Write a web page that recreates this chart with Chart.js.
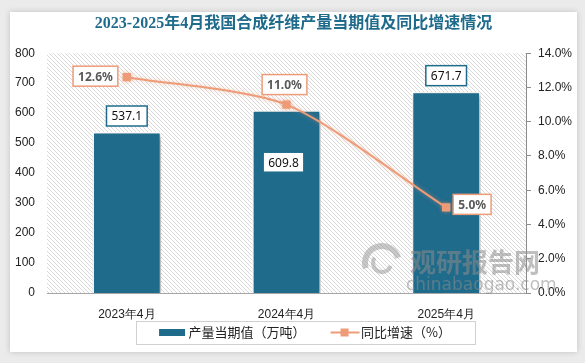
<!DOCTYPE html>
<html>
<head>
<meta charset="utf-8">
<script src="https://cdn.jsdelivr.net/npm/chart.js@4.4.0/dist/chart.umd.min.js"></script>
<style>
  body { margin: 0; background: #ebebeb; }
  #card { position: absolute; left: 10px; top: 12px; width: 567px; height: 340px; background: #fff; box-shadow: 0 0 6px rgba(0,0,0,0.18); }
  #wrap { position: absolute; left: 0; top: 0; width: 585px; height: 363px; }
</style>
</head>
<body>
<div id="card"></div>
<div id="wrap"><canvas id="myChart" width="585" height="363"></canvas></div>
<script>
// values
const categories = ['2023年4月', '2024年4月', '2025年4月'];
const output = [537.1, 609.8, 671.7];   // 万吨
const growth = [12.6, 11.0, 5.0];       // %

const barColor = '#1f6b8c';
const lineColor = '#ee9b78';
const tickFont = { family: 'Liberation Sans', size: 12 };
const swatchW = 46;          // legend box width
const imgW = swatchW + 12;   // swatch image is a bit wider, centred on the box

// diagonal hatch for the plot area
function makeHatch(ctx) {
    const s = 4;
    const c = document.createElement('canvas');
    c.width = s; c.height = s;
    const g = c.getContext('2d');
    g.strokeStyle = '#d9d9d9';
    g.lineWidth = 1;
    g.beginPath();
    g.moveTo(0, 0); g.lineTo(s, s);
    g.moveTo(-1, s - 1); g.lineTo(1, s + 1);
    g.moveTo(s - 1, -1); g.lineTo(s + 1, 1);
    g.stroke();
    return ctx.createPattern(c, 'repeat');
}

// legend swatches (blank on the left to space the items)
function barSwatch() {
    const c = document.createElement('canvas');
    c.width = imgW; c.height = 7;
    const g = c.getContext('2d');
    g.fillStyle = barColor;
    g.fillRect(swatchW - 17, 0, 26, 7);
    return c;
}
function lineSwatch() {
    const c = document.createElement('canvas');
    c.width = imgW; c.height = 10;
    const g = c.getContext('2d');
    g.strokeStyle = lineColor;
    g.lineWidth = 2;
    g.beginPath(); g.moveTo(swatchW - 18, 5); g.lineTo(swatchW + 11, 5); g.stroke();
    g.fillStyle = lineColor;
    g.fillRect(swatchW - 8, 1, 8, 8);
    return c;
}

const bgPlugin = {
    id: 'bgPlugin',
    beforeUpdate(chart) {
        // fixed legend height so the plot bottom lands where the reference has it
        const lg = chart.legend;
        if (lg && !lg._fixed) {
            const fit = lg.fit;
            lg.fit = function () { fit.call(this); this.height = 40; };
            lg._fixed = true;
        }
    },
    beforeDraw(chart) {
        const { ctx, chartArea: a } = chart;
        ctx.save();
        ctx.fillStyle = makeHatch(ctx);
        ctx.fillRect(a.left, a.top, a.right - a.left, a.bottom - a.top);
        ctx.restore();
    }
};

const shadowPlugin = {
    id: 'shadowPlugin',
    beforeDatasetDraw(chart, args) {
        const ctx = chart.ctx;
        ctx.save();
        if (args.index === 0) {
            ctx.shadowColor = 'rgba(0,0,0,0.35)';
            ctx.shadowBlur = 5;
            ctx.shadowOffsetX = 2;
            ctx.shadowOffsetY = 2;
        } else {
            ctx.shadowColor = 'rgba(238,155,120,0.5)';
            ctx.shadowBlur = 4;
        }
    },
    afterDatasetDraw(chart) {
        chart.ctx.restore();
    }
};

function labelBox(ctx, text, x, y, border, color, font) {
    ctx.font = font;
    const w = ctx.measureText(text).width + 10;
    const h = 20;
    ctx.fillStyle = '#fff';
    ctx.fillRect(x - w / 2, y - h / 2, w, h);
    ctx.strokeStyle = border;
    ctx.lineWidth = 1.5;
    ctx.strokeRect(x - w / 2, y - h / 2, w, h);
    ctx.fillStyle = color;
    ctx.textAlign = 'center';
    ctx.textBaseline = 'middle';
    ctx.fillText(text, x, y + 1);
    return w;
}

const labelsPlugin = {
    id: 'labelsPlugin',
    afterDatasetsDraw(chart) {
        const ctx = chart.ctx;
        ctx.save();

        // watermark
        ctx.globalAlpha = 0.55;
        ctx.fillStyle = '#8a8a8a';
        ctx.textAlign = 'left';
        ctx.textBaseline = 'alphabetic';
        ctx.font = 'bold 26px "Noto Sans CJK SC"';
        ctx.fillText('观研报告网', 410, 272);
        ctx.font = '17px "DejaVu Sans"';
        ctx.fillText('chinabaogao.com', 406, 290);
        ctx.strokeStyle = '#9a9a9a';
        ctx.lineWidth = 6;
        ctx.beginPath(); ctx.arc(382, 263, 17, Math.PI * 0.9, Math.PI * 1.9); ctx.stroke();
        ctx.lineWidth = 4;
        ctx.beginPath(); ctx.arc(382, 263, 9, Math.PI * 0.1, Math.PI * 1.2); ctx.stroke();
        ctx.globalAlpha = 1;

        // bar values
        const bars = chart.getDatasetMeta(0).data;
        bars.forEach((el, i) => {
            const y = i === 1 ? el.y + 52 : el.y - 16;
            labelBox(ctx, output[i].toFixed(1), el.x - (i === 1 ? 3 : 0), y, barColor, '#111', '12px "Noto Sans"');
        });

        // growth values
        const pts = chart.getDatasetMeta(1).data;
        const font = 'bold 12px "Noto Sans"';
        pts.forEach((p, i) => {
            const t = growth[i].toFixed(1) + '%';
            ctx.font = font;
            const w = ctx.measureText(t).width + 10;
            let x = p.x, y = p.y;
            if (i === 0) { x = p.x - 9 - w / 2; y = p.y - 1; }
            else if (i === 1) { x = p.x - 2; y = p.y - 20; }
            else { x = p.x + 7 + w / 2; y = p.y - 3; }
            labelBox(ctx, t, x, y, lineColor, '#595959', font);
        });
        ctx.restore();
    },
    afterDraw(chart) {
        const boxes = chart.legend.legendHitBoxes;
        if (!boxes || !boxes.length) return;
        const ctx = chart.ctx;
        const first = boxes[0], last = boxes[boxes.length - 1];
        const l = first.left + (swatchW - 17 - 6) - 23;
        const r = last.left + last.width + 24;
        const cy = first.top + first.height / 2;
        ctx.save();
        ctx.strokeStyle = '#d0d0d0';
        ctx.lineWidth = 1;
        ctx.strokeRect(Math.round(l) + 0.5, Math.round(cy - 11.5) + 0.5, Math.round(r - l), 23);
        ctx.restore();
    }
};

const chart = new Chart('myChart', {
    type: 'bar',
    data: {
        labels: categories,
        datasets: [{
            type: 'bar',
            label: '产量当期值（万吨）',
            data: output,
            backgroundColor: barColor,
            borderColor: '#ffffff',
            borderWidth: 1.5,
            categoryPercentage: 1,
            barPercentage: 0.43,
            yAxisID: 'y',
            order: 2
        }, {
            type: 'line',
            label: '同比增速（%）',
            data: growth,
            borderColor: lineColor,
            backgroundColor: lineColor,
            borderWidth: 2,
            tension: 0.25,
            pointStyle: 'rect',
            pointRadius: 4.5,
            pointBackgroundColor: lineColor,
            pointBorderColor: lineColor,
            yAxisID: 'y1',
            order: 1
        }]
    },
    options: {
        responsive: false,
        animation: false,
        layout: { padding: { left: 10, right: 8, top: 0, bottom: 0 } },
        plugins: {
            title: {
                display: true,
                text: '2023-2025年4月我国合成纤维产量当期值及同比增速情况',
                color: '#1f6b8c',
                font: { family: '"Liberation Serif", "Noto Sans CJK SC"', size: 16, weight: 'bold' },
                padding: { top: 14, bottom: 20 }
            },
            legend: {
                position: 'bottom',
                labels: {
                    usePointStyle: true,
                    pointStyleWidth: swatchW,
                    padding: 3,
                    color: '#222',
                    font: { family: '"Noto Sans CJK SC"', size: 13 },
                    sort: (a, b) => a.datasetIndex - b.datasetIndex,
                    generateLabels(chart) {
                        return chart.data.datasets.map((d, i) => ({
                            text: d.label,
                            datasetIndex: i,
                            pointStyle: i === 0 ? barSwatch() : lineSwatch(),
                            fillStyle: d.backgroundColor,
                            strokeStyle: d.backgroundColor,
                            lineWidth: 0,
                            fontColor: '#222'
                        }));
                    }
                }
            },
            tooltip: { enabled: false }
        },
        scales: {
            x: {
                grid: { display: false },
                border: { display: true, color: '#a6a6a6' },
                ticks: { color: '#222', font: tickFont, padding: 6 },
                afterFit(s) { s.height = 30; }
            },
            y: {
                position: 'left',
                min: 0, max: 800,
                ticks: { stepSize: 100, color: '#222', font: tickFont, padding: 12 },
                grid: { display: false, drawTicks: false },
                border: { display: false },
                afterFit(s) { s.width = 37; }
            },
            y1: {
                position: 'right',
                min: 0, max: 14,
                ticks: { stepSize: 2, color: '#222', font: tickFont, padding: 7, callback: v => v.toFixed(1) + '%' },
                grid: { drawOnChartArea: false, drawTicks: true, tickLength: 5, color: '#8c8c8c' },
                border: { display: true, color: '#8c8c8c' },
                afterFit(s) { s.width = 51; }
            }
        }
    },
    plugins: [bgPlugin, shadowPlugin, labelsPlugin]
});
</script>
</body>
</html>
